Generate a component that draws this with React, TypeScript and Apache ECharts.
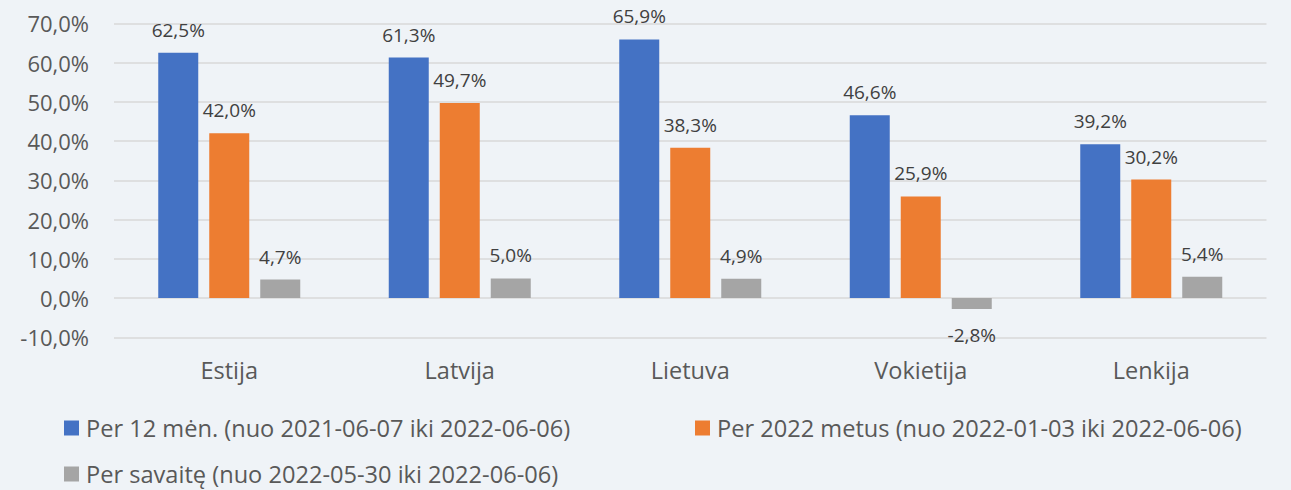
import React, { useEffect, useRef } from "react";
import * as echarts from "echarts";

const categories = ["Estija", "Latvija", "Lietuva", "Vokietija", "Lenkija"];
const seriesNames = [
  "Per 12 mėn. (nuo 2021-06-07 iki 2022-06-06)",
  "Per 2022 metus (nuo 2022-01-03 iki 2022-06-06)",
  "Per savaitę (nuo 2022-05-30 iki 2022-06-06)",
];
const months12 = [62.5, 61.3, 65.9, 46.6, 39.2];
const year2022 = [42.0, 49.7, 38.3, 25.9, 30.2];
const week = [4.7, 5.0, 4.9, -2.8, 5.4];
const colors = ["#4472C4", "#ED7D31", "#A5A5A5"];

const FONT = "'Open Sans', 'Noto Sans', sans-serif";
const fmt = (v: number) => v.toFixed(1).replace(".", ",") + "%";

export default function App() {
  const ref = useRef<HTMLDivElement>(null);
  useEffect(() => {
    document.body.style.margin = "0";
    const chart = echarts.init(ref.current!, null, { renderer: "svg" });
    const mk = (name: string, data: number[], color: string) => ({
      name,
      type: "bar",
      barWidth: 40,
      barGap: "27.5%",
      itemStyle: { color },
      data: data.map((v) => ({
        value: v,
        label: v < 0 ? { position: "bottom", distance: 16 } : { position: "top", distance: 13 },
      })),
      label: {
        show: true,
        fontFamily: FONT,
        fontSize: 19,
        lineHeight: 20,
        color: "#404040",
        formatter: (p: any) => fmt(p.value),
      },
    });
    const legendBase = {
      icon: "rect",
      itemWidth: 15,
      itemHeight: 15,
      itemGap: 4,
      textStyle: {
        fontFamily: FONT,
        fontSize: 23.6,
        lineHeight: 24,
        color: "#595959",
        padding: [0, 0, 0, 2],
      },
      padding: 0,
    };
    chart.setOption({
      animation: false,
      backgroundColor: "#EFF3F7",
      color: colors,
      grid: { left: 114, right: 24.5, top: 23.4, bottom: 152.7 },
      legend: [
        { ...legendBase, data: [seriesNames[0]], left: 64, top: 416 },
        { ...legendBase, data: [seriesNames[1]], left: 695, top: 416 },
        { ...legendBase, data: [seriesNames[2]], left: 64, top: 462 },
      ],
      xAxis: {
        type: "category",
        data: categories,
        axisLine: { show: false },
        axisTick: { show: false },
        axisLabel: {
          fontFamily: FONT,
          fontSize: 23.5,
          lineHeight: 24,
          color: "#595959",
          margin: 21,
        },
      },
      yAxis: {
        type: "value",
        min: -10,
        max: 70,
        interval: 10,
        axisLine: { show: false },
        axisTick: { show: false },
        splitLine: { lineStyle: { color: "#D9D9D9", width: 1.5 } },
        axisLabel: {
          fontFamily: FONT,
          fontSize: 22,
          color: "#595959",
          margin: 25,
          formatter: (v: number) => fmt(v),
        },
      },
      series: [
        mk(seriesNames[0], months12, colors[0]),
        mk(seriesNames[1], year2022, colors[1]),
        mk(seriesNames[2], week, colors[2]),
      ],
    });
    return () => chart.dispose();
  }, []);
  return <div ref={ref} style={{ width: 1291, height: 490 }} />;
}
